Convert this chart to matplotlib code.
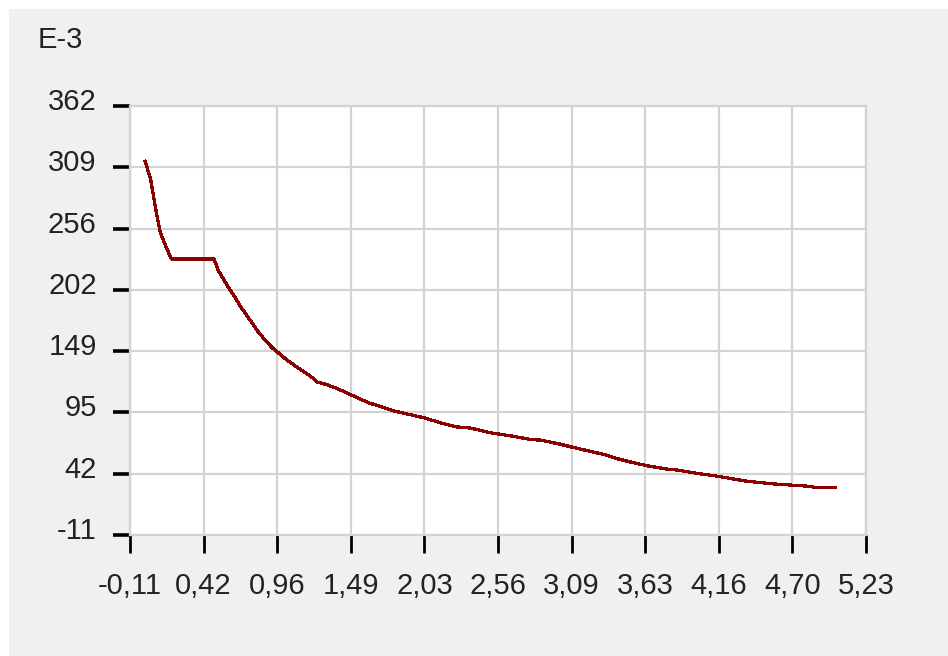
import matplotlib
matplotlib.use('Agg')
import matplotlib.pyplot as plt
import matplotlib.transforms as mtransforms
from matplotlib.patches import Rectangle
import numpy as np

# curve values (y in units of 1e-3)
x_vals = [0.00, 0.04, 0.08, 0.11, 0.15, 0.19, 0.50, 0.53, 0.59, 0.64, 0.69,
          0.76, 0.83, 0.92, 0.98, 1.03, 1.09, 1.14, 1.20, 1.25, 1.31, 1.40,
          1.51, 1.62, 1.70, 1.80, 1.91, 2.02, 2.16, 2.26, 2.36, 2.50, 2.66,
          2.80, 2.87, 3.01, 3.11, 3.22, 3.33, 3.42, 3.52, 3.65, 3.80, 3.86,
          4.01, 4.16, 4.35, 4.55, 4.61, 4.80, 4.89, 5.01]
y_vals = [314, 298, 270, 252, 240, 229, 229, 219, 207, 198, 188,
          176, 164, 152, 146, 141, 136, 132, 127, 122, 120, 116,
          110, 104, 101, 97, 94, 91, 86, 83, 82, 78, 75,
          72, 71.5, 68, 65, 62, 59, 55.5, 52.5, 49, 46, 45.5,
          42.5, 40, 36, 33.5, 33, 31.5, 30, 30]

x_labels = ['-0,11', '0,42', '0,96', '1,49', '2,03', '2,56', '3,09',
            '3,63', '4,16', '4,70', '5,23']
y_labels = ['-11', '42', '95', '149', '202', '256', '309', '362']
x_min, x_max = -0.11, 5.23
y_min, y_max = -11, 362

plt.rcParams['font.family'] = ['Liberation Sans', 'DejaVu Sans']

W, H = 948, 656
fig = plt.figure(figsize=(W / 100, H / 100), dpi=100, facecolor='white')

# grey panel behind the chart
fig.patches.append(Rectangle((9 / W, 0), 1 - 9 / W, 1 - 9 / H,
                             transform=fig.transFigure, facecolor='#f0f0f0',
                             edgecolor='none', zorder=-1))

ax = fig.add_axes([130 / W, (H - 535) / H, (866 - 130) / W, (535 - 106) / H])
ax.set_facecolor('white')

ax.plot(x_vals, y_vals, color='#8b0000', lw=1.6, antialiased=False, zorder=3)

ax.set_xlim(x_min, x_max)
ax.set_ylim(y_min, y_max)
ax.set_xticks(np.linspace(x_min, x_max, len(x_labels)))
ax.set_xticklabels(x_labels)
ax.set_yticks(np.linspace(y_min, y_max, len(y_labels)))
ax.set_yticklabels(y_labels)

ax.grid(True, color='#d3d3d3', lw=1.6)
for s in ax.spines.values():
    s.set_color('#d3d3d3')
    s.set_linewidth(1.6)

ax.tick_params(axis='y', length=12, width=2.6, color='black', pad=12,
               labelsize=21, labelcolor='#222222')
ax.tick_params(axis='x', length=13, width=2.0, color='black', pad=14,
               labelsize=21, labelcolor='#222222')

# y labels sit slightly above their ticks
shift = mtransforms.ScaledTranslation(0, 7 / 100, fig.dpi_scale_trans)
for lab in ax.get_yticklabels():
    lab.set_transform(lab.get_transform() + shift)

fig.text(38 / W, 1 - 40 / H, 'E-3', fontsize=21, color='#222222',
         ha='left', va='center')

fig.savefig('out.png', dpi=100, facecolor='white')
